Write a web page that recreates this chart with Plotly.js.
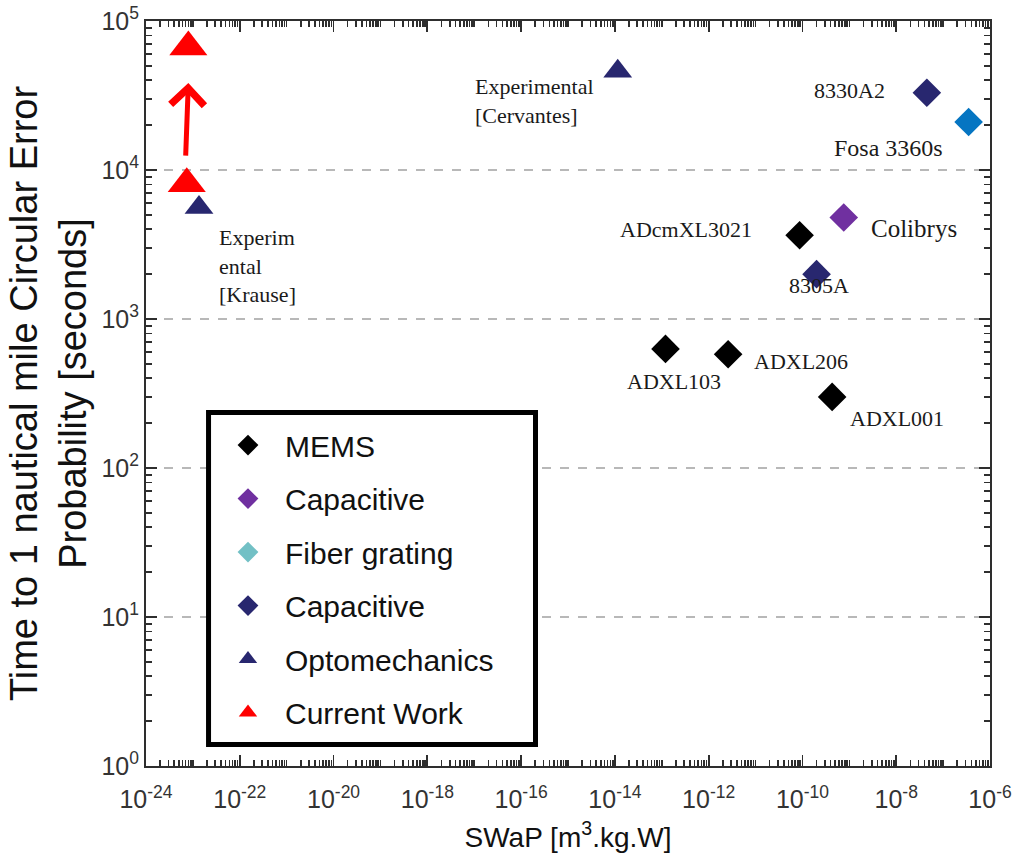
<!DOCTYPE html>
<html>
<head>
<meta charset="utf-8">
<script src="https://cdn.plot.ly/plotly-3.0.1.min.js"></script>
<style>
  html, body { margin: 0; padding: 0; background: #ffffff; }
  #chart { width: 1018px; height: 861px; }
</style>
</head>
<body>
<div id="chart"></div>
<script>
// ---------------- data ----------------
const memsNames = ['ADXL103', 'ADXL206', 'ADXL001', 'ADcmXL3021'];
const memsX = [1.2e-13, 2.6e-12, 4.3e-10, 8.7e-11];
const memsY = [630, 580, 300, 3650];

const capPurpleNames = ['Colibrys'];
const capPurpleX = [7.6e-10];
const capPurpleY = [4800];

const fiberNames = ['Fosa 3360s'];
const fiberX = [3.5e-7];
const fiberY = [21000];

const capNavyNames = ['8330A2', '8305A'];
const capNavyX = [4.5e-8, 2.0e-10];
const capNavyY = [33000, 2000];

const optoNames = ['Experimental<br>[Cervantes]', 'Experim<br>ental<br>[Krause]'];
const optoX = [1.15e-14, 1.35e-23];
const optoY = [46000, 5600];

const currentX = [8.0e-24, 7.4e-24];
const currentY = [67000, 8100];

// arrow from the lower to the upper "Current Work" marker: [tail, head]
const arrowX = [7.0e-24, 8.0e-24];
const arrowY = [12200, 38400];

const legendNames = ['MEMS', 'Capacitive', 'Fiber grating', 'Capacitive', 'Optomechanics', 'Current Work'];

const xTickVals = [1e-24, 1e-22, 1e-20, 1e-18, 1e-16, 1e-14, 1e-12, 1e-10, 1e-8, 1e-6];
const xTickText = ['10<sup>-24</sup>', '10<sup>-22</sup>', '10<sup>-20</sup>', '10<sup>-18</sup>', '10<sup>-16</sup>',
                   '10<sup>-14</sup>', '10<sup>-12</sup>', '10<sup>-10</sup>', '10<sup>-8</sup>', '10<sup>-6</sup>'];
const yTickVals = [1, 10, 100, 1000, 10000, 100000];
const yTickText = ['10<sup>0</sup>', '10<sup>1</sup>', '10<sup>2</sup>', '10<sup>3</sup>', '10<sup>4</sup>', '10<sup>5</sup>'];

// minor (log) tick positions: 1..9 x 10^n inside each decade (axis furniture, not data)
function logMinorTicks(fromExp, toExp) {
  const out = [];
  for (let e = fromExp; e < toExp; e++) {
    for (let k = 1; k <= 9; k++) out.push(k * Math.pow(10, e));
  }
  return out;
}

// ---------------- styles ----------------
const NAVY = '#28276f';
const SANS = 'Liberation Sans, Arial, sans-serif';
const SERIF = 'Liberation Serif, Times New Roman, serif';
const AXC = '#2e2e2e';

function diamondTrace(name, xs, ys, color, group, showlegend) {
  return {
    type: 'scatter', mode: 'markers', name: name, x: xs, y: ys,
    legendgroup: group, showlegend: showlegend,
    marker: { symbol: 'diamond', size: 22, color: color, line: { width: 0 } },
    hoverinfo: 'x+y'
  };
}

const traces = [
  // empty trace that only makes the overlay axes (minor ticks) exist
  { type: 'scatter', mode: 'markers', x: [null], y: [null], xaxis: 'x2', yaxis: 'y2',
    showlegend: false, hoverinfo: 'skip' },
  diamondTrace(legendNames[0], memsX, memsY, '#000000', 'g1', true),
  diamondTrace(legendNames[1], capPurpleX, capPurpleY, '#7030a0', 'g2', true),
  // legend swatch for "Fiber grating" (teal in the legend)
  diamondTrace(legendNames[2], [null], [null], '#72c0c5', 'g3', true),
  diamondTrace(legendNames[2], fiberX, fiberY, '#0575c2', 'g3', false),
  diamondTrace(legendNames[3], capNavyX, capNavyY, NAVY, 'g4', true),
  {
    type: 'scatter', mode: 'markers', name: legendNames[4], x: optoX, y: optoY,
    legendgroup: 'g5',
    marker: { symbol: 'triangle-up', size: 25, color: NAVY, line: { width: 0 } }
  },
  {
    type: 'scatter', mode: 'markers', name: legendNames[5], x: currentX, y: currentY,
    legendgroup: 'g6',
    marker: { symbol: 'triangle-up', size: 33, color: '#ff0000', line: { width: 0 } }
  }
];

// label placement (pixel offsets from the marker, style only)
const labelStyle = {
  'ADXL103':    { xanchor: 'center', xshift: 9,    yshift: -33, size: 22 },
  'ADXL206':    { xanchor: 'left',   xshift: 24,   yshift: -7,  size: 22 },
  'ADXL001':    { xanchor: 'left',   xshift: 16,   yshift: -22, size: 22 },
  'ADcmXL3021': { xanchor: 'right',  xshift: -46,  yshift: 6,   size: 22 },
  'Colibrys':   { xanchor: 'left',   xshift: 25,   yshift: -11, size: 25 },
  'Fosa 3360s': { xanchor: 'right',  xshift: -24,  yshift: -26, size: 24 },
  '8330A2':     { xanchor: 'right',  xshift: -40,  yshift: 2,   size: 22 },
  '8305A':      { xanchor: 'center', xshift: 2,    yshift: -11, size: 22 },
  'Experimental<br>[Cervantes]': { xanchor: 'left', xshift: -145, yshift: -30, size: 22 },
  'Experim<br>ental<br>[Krause]': { xanchor: 'left', xshift: 18, yshift: -58, size: 22 }
};

const annotations = [];
function addLabels(names, xs, ys) {
  names.forEach(function (n, i) {
    const st = labelStyle[n];
    annotations.push({
      xref: 'x', yref: 'y', x: Math.log10(xs[i]), y: Math.log10(ys[i]),
      text: n, showarrow: false, align: 'left',
      xanchor: st.xanchor, yanchor: 'middle', xshift: st.xshift, yshift: st.yshift,
      font: { family: SERIF, size: st.size, color: '#1a1a1a' }
    });
  });
}
addLabels(memsNames, memsX, memsY);
addLabels(capPurpleNames, capPurpleX, capPurpleY);
addLabels(fiberNames, fiberX, fiberY);
addLabels(capNavyNames, capNavyX, capNavyY);
addLabels(optoNames, optoX, optoY);

// red arrow
annotations.push({
  xref: 'x', yref: 'y', axref: 'x', ayref: 'y',
  x: Math.log10(arrowX[1]), y: Math.log10(arrowY[1]),
  ax: Math.log10(arrowX[0]), ay: Math.log10(arrowY[0]),
  text: '', showarrow: true, arrowhead: 4, arrowsize: 1.3, arrowwidth: 5,
  arrowcolor: '#ff0000', standoff: 0, startstandoff: 0
});

const minorAxis = {
  type: 'log', autorange: false, tickmode: 'array',
  ticks: 'inside', ticklen: 6, tickwidth: 1.6, tickcolor: AXC,
  showticklabels: false, showgrid: false, zeroline: false,
  showline: true, linecolor: AXC, linewidth: 2, mirror: 'ticks'
};

const layout = {
  width: 1018, height: 861,
  margin: { l: 146, r: 28, t: 21, b: 95, pad: 0 },
  paper_bgcolor: '#ffffff', plot_bgcolor: '#ffffff',
  font: { family: SANS, color: '#333333' },
  showlegend: true,
  legend: {
    x: 0.077, y: 0.4657, xanchor: 'left', yanchor: 'top',
    bgcolor: 'rgba(0,0,0,0)', borderwidth: 0,
    font: { family: SANS, size: 30, color: '#111111' },
    tracegroupgap: 11.5, itemwidth: 64, traceorder: 'grouped'
  },
  // thick black frame of the legend, white inside (hides the gridlines there)
  shapes: [{
    type: 'rect', xref: 'paper', yref: 'paper',
    x0: 0.0741, x1: 0.4615, y0: 0.0289, y1: 0.4745,
    fillcolor: '#ffffff', line: { color: '#000000', width: 5 }, layer: 'above'
  }],
  xaxis: {
    type: 'log', range: [-24, -6], autorange: false,
    tickmode: 'array', tickvals: xTickVals, ticktext: xTickText,
    ticks: 'inside', ticklen: 11, tickwidth: 1.8, tickcolor: AXC,
    showline: true, linecolor: AXC, linewidth: 2, mirror: 'ticks',
    showgrid: false, zeroline: false, ticklabelstandoff: 10,
    tickfont: { family: SANS, size: 25, color: '#333333' },
    title: { text: 'SWaP [m<sup>3</sup>.kg.W]', font: { family: SANS, size: 28, color: '#111111' }, standoff: 15 }
  },
  yaxis: {
    type: 'log', range: [0, 5], autorange: false,
    tickmode: 'array', tickvals: yTickVals, ticktext: yTickText,
    ticks: 'inside', ticklen: 11, tickwidth: 1.8, tickcolor: AXC,
    showline: true, linecolor: AXC, linewidth: 2, mirror: 'ticks',
    showgrid: true, gridcolor: '#b8b8b8', gridwidth: 1.5, griddash: 'dash', zeroline: false,
    tickfont: { family: SANS, size: 25, color: '#333333' },
    title: { text: 'Time to 1 nautical mile Circular Error<br>Probability [seconds]',
             font: { family: SANS, size: 38, color: '#111111' }, standoff: 3 }
  },
  xaxis2: Object.assign({}, minorAxis, { range: [-24, -6], tickvals: logMinorTicks(-24, -6),
                                         overlaying: 'x', anchor: 'y2', side: 'bottom' }),
  yaxis2: Object.assign({}, minorAxis, { range: [0, 5], tickvals: logMinorTicks(0, 5),
                                         overlaying: 'y', anchor: 'x2', side: 'left' }),
  annotations: annotations
};

Plotly.newPlot('chart', traces, layout, { displayModeBar: false, staticPlot: true });
</script>
</body>
</html>
